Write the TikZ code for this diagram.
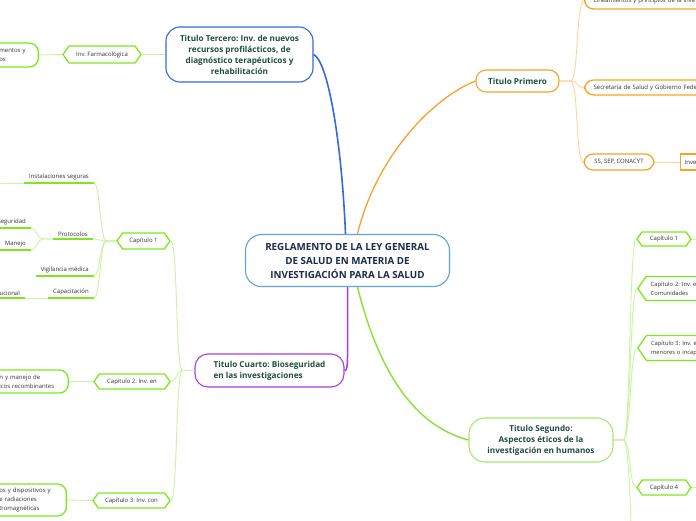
\documentclass[tikz,border=0pt]{standalone}
\usepackage{fontspec}
\setmainfont{Open Sans}
\usepackage{xcolor}
\usetikzlibrary{shapes.symbols}
\frenchspacing
\definecolor{azul}{HTML}{3468E6}
\definecolor{azulclaro}{HTML}{5DA5DA}
\definecolor{naranja}{HTML}{F6A427}
\definecolor{naranjaclaro}{HTML}{FCD49C}
\definecolor{morado}{HTML}{A63FE6}
\definecolor{lima}{HTML}{7EE81F}
\definecolor{limaclaro}{HTML}{C9F5A2}
\definecolor{limamedio}{HTML}{8FE23F}
\definecolor{limatitulo}{HTML}{A4EC62}
\definecolor{verdetexto}{HTML}{1F4D3E}
\definecolor{textogris}{HTML}{333333}
\definecolor{azultexto}{HTML}{1D2B4C}

\tikzset{
  titulo/.style={draw, line width=1.1pt, rounded corners=14pt, fill=white, text=verdetexto,
    font=\fontsize{8.2}{11}\selectfont\bfseries, align=center, inner sep=4pt},
  hexa/.style={shape=signal, signal to=east and west, signal pointer angle=110, draw=lima,
    line width=1.3pt, fill=white, text=textogris, font=\fontsize{6}{9}\selectfont, inner ysep=1pt},
  hoja/.style={draw=lima, line width=1.3pt, rounded corners=9pt, fill=white, text=textogris,
    font=\fontsize{6}{9}\selectfont, align=left},
  subrayado/.style={text=textogris, font=\fontsize{6}{9}\selectfont, inner xsep=5pt, inner ysep=2.5pt,
    append after command={(\tikzlastnode.south west) edge[draw=lima, line width=1.5pt] (\tikzlastnode.south east)}},
  rama/.style={draw=limaclaro, line width=0.9pt},
}

\begin{document}
\frenchspacing
\begin{tikzpicture}[x=1pt,y=1pt]
  \useasboundingbox[fill=white] (0,0) rectangle (696,-520);
  \clip (0,0) rectangle (696,-520);

  \node[titulo, draw=azulclaro, text=azultexto, font=\fontsize{9.8}{14}\selectfont\bfseries, minimum width=204pt, minimum height=52pt, rounded corners=16pt] (reglamento) at (347.5,-260.5) {REGLAMENTO DE LA LEY GENERAL\\DE SALUD EN MATERIA DE\\INVESTIGACIÓN PARA LA SALUD};
  \node[titulo, draw=azul, minimum width=147pt, minimum height=55pt] (tercero) at (239.5,-54.5) {Titulo Tercero: Inv. de nuevos\\recursos profilácticos, de\\diagnóstico terapéuticos y\\rehabilitación};
  \node[titulo, draw=naranja, minimum width=83pt, minimum height=22pt, rounded corners=10pt] (primero) at (517.5,-81) {Titulo Primero};
  \node[titulo, draw=morado, minimum width=149pt, minimum height=33pt, align=left, rounded corners=13pt] (cuarto) at (269.5,-370.5) {Titulo Cuarto: Bioseguridad\\en las investigaciones};
  \node[titulo, draw=limatitulo, minimum width=144pt, minimum height=44pt, rounded corners=16pt] (segundo) at (541,-440) {Titulo Segundo:\\Aspectos éticos de la\\investigación en humanos};

  \draw[azul, line width=1.6pt] ([xshift=-2pt]reglamento.north) .. controls +(-4,95) and +(14,-6) .. (tercero.east);
  \draw[naranja, line width=1.3pt] ([xshift=10pt]reglamento.north) .. controls +(18,75) and +(-45,-18) .. (primero.west);
  \draw[morado, line width=1.5pt] (reglamento.south) .. controls +(0,-75) and +(4,0) .. (cuarto.east);
  \draw[limamedio, line width=1.5pt] ([xshift=10pt]reglamento.south) .. controls +(25,-100) and +(-45,12) .. (segundo.west);

  % titulo tercero
  \node[hexa, minimum width=78pt, minimum height=17pt] (farmaco) at (102,-54.5) {Inv. Farmacológica};
  \node[hoja, anchor=east, text width=31pt, inner xsep=8pt, minimum height=24pt] (medicamentos) at (39,-55) {mentos y\\os};
  \draw[rama] (tercero.west) -- (farmaco.east);
  \draw[rama] (farmaco.west) -- (medicamentos.east);

  % titulo primero
  \node[hoja, draw=naranja, anchor=west, text width=140pt, inner xsep=9pt, minimum height=16pt] (lineamientos) at (584,-1) {Lineamientos y principios de la inve};
  \node[hoja, draw=naranja, anchor=west, text width=140pt, inner xsep=9pt, minimum height=15pt] (secretaria) at (584,-87.5) {Secretaría de Salud y Gobierno Fede};
  \node[hoja, draw=naranja, minimum width=70pt, minimum height=16pt] (conacyt) at (619,-162) {SS, SEP, CONACYT};
  \node[hoja, draw=naranja, rounded corners=0pt, anchor=west, text width=60pt, inner xsep=4pt, minimum height=16pt] (inve) at (680,-162) {Inve};
  \foreach \h in {lineamientos,secretaria,conacyt}
    \draw[rama, naranjaclaro] (primero.east) -- ++(11,0) .. controls +(8,0) and +(-8,0) .. (\h.west);
  \draw[rama, naranjaclaro] (conacyt.east) -- (inve.west);

  % titulo cuarto
  \node[hexa, minimum width=53pt, minimum height=16pt] (cap1) at (143.5,-241) {Capítulo 1};
  \node[hexa, minimum width=76pt, minimum height=15pt] (cap2) at (132,-381.5) {Capítulo 2: Inv. en};
  \node[hexa, minimum width=77pt, minimum height=15pt] (cap3) at (131.5,-500.5) {Capítulo 3: Inv. con};
  \foreach \c in {cap1,cap2,cap3}
    \draw[rama] (cuarto.west) -- ++(-12,0) .. controls +(-7,0) and +(7,0) .. (\c.east);

  \node[hoja, anchor=east, text width=61pt, inner xsep=8pt, minimum height=23pt] (recombinantes) at (69,-381.5) {n y manejo de\\icos recombinantes};
  \node[hoja, anchor=east, text width=59pt, inner xsep=8pt, minimum height=32pt] (radiaciones) at (67,-500) {os y dispositivos y\\e radiaciones\\tromagnéticas};
  \draw[rama] (cap2.west) -- (recombinantes.east);
  \draw[rama] (cap3.west) -- (radiaciones.east);

  \node[subrayado, anchor=south east] (instalaciones) at (94,-183) {Instalaciones seguras};
  \node[subrayado, anchor=south east] (protocolos) at (93,-239) {Protocolos};
  \node[subrayado, anchor=south east] (vigilancia) at (94,-276) {Vigilancia médica};
  \node[subrayado, anchor=south east] (capacitacion) at (94,-298) {Capacitación};
  \foreach \s in {instalaciones,protocolos,vigilancia,capacitacion}
    \draw[rama] (cap1.west) -- ++(-10,0) .. controls +(-6,0) and +(6,0) .. (\s.south east);

  \node[subrayado, anchor=south east] (seguridad) at (31,-228) {Seguridad};
  \node[subrayado, anchor=south east] (manejo) at (31,-250) {Manejo};
  \foreach \s in {seguridad,manejo}
    \draw[rama] (protocolos.south west) -- ++(-10,0) .. controls +(-6,0) and +(6,0) .. (\s.south east);
  \node[subrayado, anchor=south east] (institucional) at (25,-298) {ucional};
  \draw[rama] (capacitacion.south west) -- (institucional.south east);
  \coordinate (inst-sig) at (-30,-183);
  \draw[rama] (instalaciones.south west) -- (inst-sig);

  % titulo segundo
  \node[hexa, minimum width=54pt, minimum height=14pt] (seg1) at (664,-239) {Capítulo 1};
  \node[hexa, anchor=west, text width=70pt, align=left, inner xsep=4.5pt, minimum height=24pt, font=\fontsize{5.8}{9}\selectfont] (seg2) at (637,-288.5) {Capítulo 2: Inv. e\\Comunidades};
  \node[hexa, anchor=west, text width=70pt, align=left, inner xsep=4.5pt, minimum height=25pt, font=\fontsize{5.8}{9}\selectfont] (seg3) at (637,-348) {Capítulo 3: Inv. e\\menores o incap};
  \node[hexa, minimum width=54pt, minimum height=15pt] (seg4) at (664,-487.5) {Capítulo 4};
  \coordinate (seg5) at (632,-600);
  \coordinate (seg1-sig) at (720,-239);
  \coordinate (seg4-sig) at (720,-487.5);
  \foreach \s in {seg1,seg2,seg3,seg4}
    \draw[rama] (segundo.east) -- ++(10,0) .. controls +(7,0) and +(-7,0) .. (\s.west);
  \draw[rama] (segundo.east) -- ++(10,0) .. controls +(6,0) and +(0,60) .. (seg5);
  \draw[rama] (seg1.east) -- (seg1-sig);
  \draw[rama] (seg4.east) -- (seg4-sig);
\end{tikzpicture}
\end{document}
